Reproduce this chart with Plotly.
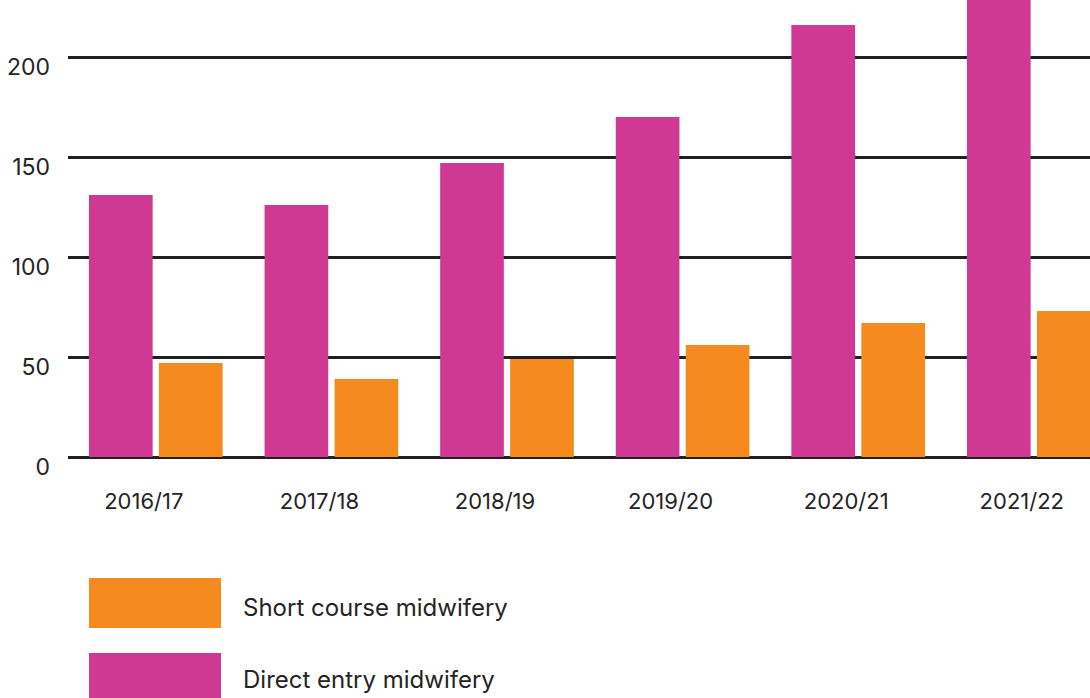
import plotly.graph_objects as go

# Student numbers by academic year
years = ["2016/17", "2017/18", "2018/19", "2019/20", "2020/21", "2021/22"]
direct_entry = [131, 126, 147, 170, 216, 238]
short_course = [47, 39, 49, 56, 67, 73]

series = [
    ("Direct entry midwifery", direct_entry, "#CF3893"),
    ("Short course midwifery", short_course, "#F58A1F"),
]
legend_order = ["Short course midwifery", "Direct entry midwifery"]

W, H = 1090, 698
PLOT_L, PLOT_R, PLOT_T, PLOT_B = 68, 1090, 0, 457
TEXT = "#262324"
GRID = "#231f20"
FONT = "Inter"

fig = go.Figure()
for name, vals, col in series:
    fig.add_trace(go.Bar(x=years, y=vals, name=name, marker=dict(color=col, line=dict(width=0))))


def px_x(p):
    return (p - PLOT_L) / (PLOT_R - PLOT_L)


def px_y(p):
    return (PLOT_B - p) / (PLOT_B - PLOT_T)


# Custom legend: large swatches with labels underneath the chart
colors = {n: c for n, _, c in series}
box_tops = [578, 653]
text_mid = [607, 679.5]
for name, top, mid in zip(legend_order, box_tops, text_mid):
    fig.add_shape(type="rect", xref="paper", yref="paper",
                  x0=px_x(89), x1=px_x(221), y0=px_y(top + 50), y1=px_y(top),
                  fillcolor=colors[name], line=dict(width=0), layer="above")
    fig.add_annotation(xref="paper", yref="paper", x=px_x(241), y=px_y(mid),
                       xanchor="left", yanchor="middle", text=name, showarrow=False,
                       font=dict(family=FONT, size=24, color=TEXT))

span = (PLOT_R - PLOT_L) / 175.6
fig.update_layout(
    width=W, height=H,
    margin=dict(l=PLOT_L, r=W - PLOT_R, t=PLOT_T, b=H - PLOT_B),
    paper_bgcolor="white", plot_bgcolor="white",
    barmode="group", bargap=0.203, bargroupgap=0.09,
    showlegend=False,
    font=dict(family=FONT, color=TEXT),
    xaxis=dict(range=[-0.5, -0.5 + span], showgrid=False, zeroline=False, showline=False,
               ticks="", tickfont=dict(size=22, color=TEXT), ticklabelshift=-12,
               ticklabelstandoff=29, fixedrange=True),
    yaxis=dict(range=[0, (PLOT_B - PLOT_T) / 2], tickvals=[0, 50, 100, 150, 200],
               showgrid=True, gridcolor=GRID, gridwidth=2.5,
               zeroline=True, zerolinecolor=GRID, zerolinewidth=2.5,
               showline=False, ticks="", tickfont=dict(size=23, color=TEXT),
               ticklabelshift=10, ticklabelstandoff=17, fixedrange=True),
)

fig.write_html("out.html", config={"displayModeBar": False})
